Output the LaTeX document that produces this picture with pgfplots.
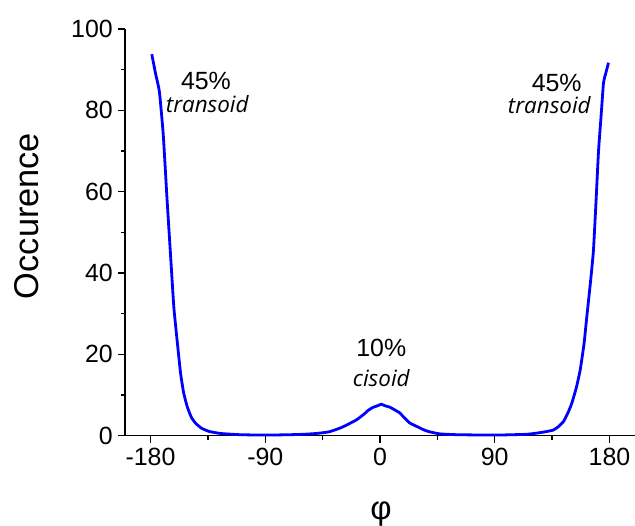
\documentclass[border=0pt]{standalone}
\usepackage{fontspec}
\setmainfont{Liberation Sans}
\newfontfamily\osans{Open Sans}
\usepackage{pgfplots}
\pgfplotsset{compat=1.18}
\begin{document}
\begin{tikzpicture}
\begin{axis}[
  name=ax,
  scale only axis,
  width=510bp, height=406.5bp,
  xmin=-200, xmax=200, ymin=0, ymax=100,
  axis x line*=bottom, axis y line*=left,
  axis line style={line width=1.7bp, black, -},
  xtick={-180,-90,0,90,180},
  xticklabels={-180,-90,0,90,180},
  ytick={0,20,40,60,80,100},
  yticklabels={0,20,40,60,80,100},
  minor x tick num=1, minor y tick num=1,
  tick align=outside,
  major tick length=7bp, minor tick length=4bp,
  every tick/.style={black, line width=1.4bp},
  tick label style={font=\fontsize{25}{30}\selectfont},
  yticklabel style={inner sep=0pt, xshift=-5bp},
  xticklabel style={inner sep=0pt, yshift=-5bp},
  ylabel={Occurence},
  ylabel style={font=\fontsize{34.5}{40}\selectfont, at={(axis description cs:-0.192,0.54)}, anchor=center, rotate=0},
  xlabel={φ},
  xlabel style={font=\fontsize{33}{38}\selectfont, at={(axis description cs:0.502,-0.193)}, anchor=center},
  clip=false,
]
\addplot[blue, line width=2.8bp, smooth, tension=0.3] coordinates {
(-179,93.8) (-176,89) (-173,84.5) (-170,74) (-167,58) (-164,43) (-161.7,31.6)
(-159,23) (-156.4,15.3) (-154,10.5) (-151.2,7.1) (-148,4.5) (-144.6,3.0)
(-140,1.8) (-134,1.0) (-125,0.5) (-110,0.2) (-90,0.1) (-70,0.2) (-60,0.3)
(-50,0.5) (-40,0.9) (-30,2.0) (-18.7,3.8) (-12,5.4) (-9.6,6.1) (-5.7,6.9)
(-2,7.3) (1,7.7) (4,7.3) (7.5,7.0) (11,6.4) (15.3,5.6) (19,4.4) (23.2,3.1)
(27,2.5) (31,1.9) (35,1.3) (39,0.9) (47,0.4) (60,0.2) (90,0.1) (115,0.3)
(125.5,0.7) (131,1.0) (136,1.35) (140,2.2) (143.8,3.4) (147,5.3) (150.4,7.9)
(154,11.8) (157,16.1) (160,22.5) (162.2,29.2) (165,37.5) (167.4,45.5)
(169.5,58) (171.4,70) (173.5,79) (175.3,86.8) (177,89) (179.2,91.7)
};
\node[font=\fontsize{25}{30}\selectfont] at (axis cs:-136.5,87.2) {45\%};
\node[font=\osans\itshape\fontsize{22.5}{26}\selectfont] at (axis cs:-135.5,81.5) {transoid};
\node[font=\fontsize{25}{30}\selectfont] at (axis cs:138.6,86.6) {45\%};
\node[font=\osans\itshape\fontsize{22.5}{26}\selectfont] at (axis cs:132.8,81.3) {transoid};
\node[font=\fontsize{25}{30}\selectfont] at (axis cs:1,21.6) {10\%};
\node[font=\osans\itshape\fontsize{22.5}{26}\selectfont] at (axis cs:1,14.2) {cisoid};
\end{axis}
\pgfresetboundingbox
\useasboundingbox ([xshift=-125bp,yshift=-90.5bp]ax.south west) rectangle ++(635bp,526bp);
\end{tikzpicture}
\end{document}
